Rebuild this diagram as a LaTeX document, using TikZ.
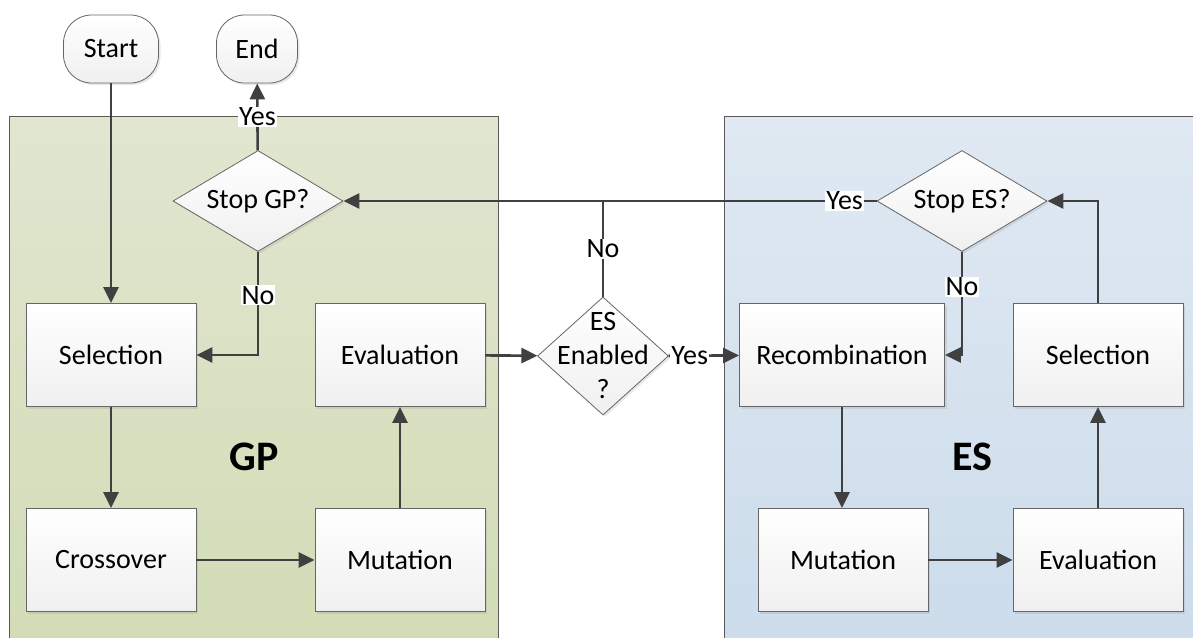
\documentclass[tikz,border=0pt]{standalone}
\usepackage{fontspec}
\setmainfont{Carlito}
\usetikzlibrary{arrows.meta,shapes.geometric,shadows,calc}

\definecolor{lineclr}{HTML}{404040}
\definecolor{gptop}{HTML}{E1E6D0}
\definecolor{gpbot}{HTML}{D2DCB6}
\definecolor{estop}{HTML}{E0E9F2}
\definecolor{esbot}{HTML}{CCDCEB}

\tikzset{
  boxshade/.style={draw=gray!80!black,line width=0.8pt,top color=white,bottom color=gray!12,
    drop shadow={opacity=0.18,shadow xshift=2pt,shadow yshift=-2pt}},
  stepbox/.style={boxshade,rectangle,minimum width=170pt,minimum height=103pt},
  termbox/.style={boxshade,rectangle,rounded corners=28pt,minimum height=68pt},
  decision/.style={boxshade,diamond,aspect=1.68,inner sep=1pt},
  flow/.style={line width=2.6pt,color=lineclr},
  answer/.style={fill=white,inner sep=1pt,text=black},
}

\begin{document}
\begin{tikzpicture}[x=1pt,y=-1pt,>={Triangle[length=16pt,width=15pt]},
  every node/.style={font=\fontsize{28}{32}\selectfont}]
\useasboundingbox (0,0) rectangle (1193,637);
% panels
\fill[top color=gptop,bottom color=gpbot] (9,116) rectangle (498,640);
\draw[gray!70!black,line width=1pt] (9,640) -- (9,116) -- (498,116) -- (498,640);
\fill[top color=estop,bottom color=esbot] (724,116) rectangle (1196,640);
\draw[gray!70!black,line width=1pt] (724,640) -- (724,116) -- (1196,116);
\node[font=\fontsize{42}{46}\selectfont\bfseries] (gp) at (254,457) {GP};
\node[font=\fontsize{42}{46}\selectfont\bfseries] (es) at (972,457) {ES};

% GP side
\node[termbox,minimum width=95pt] (start) at (111,49) {Start};
\node[termbox,minimum width=81pt] (end) at (257,49) {End};
\node[decision,minimum width=170pt,minimum height=101pt] (stopgp) at (258,201) {Stop GP?};
\node[stepbox] (selgp) at (111,355) {Selection};
\node[stepbox] (evalgp) at (400,355) {Evaluation};
\node[stepbox] (cross) at (111,560) {Crossover};
\node[stepbox] (mutgp) at (400,560) {Mutation};

% middle
\node[decision,minimum width=131pt,minimum height=118pt] (esen) at (603,356) {};
\node[align=center,font=\fontsize{28}{34}\selectfont] (esentext) at (esen) {ES\\Enabled\\?};

% ES side
\node[decision,minimum width=170pt,minimum height=101pt] (stopes) at (962,201) {Stop ES?};
\node[stepbox,minimum width=205pt] (recomb) at (842,355) {Recombination};
\node[stepbox] (seles) at (1098,355) {Selection};
\node[stepbox] (mutes) at (843,560) {Mutation};
\node[stepbox] (evales) at (1098,560) {Evaluation};

% connectors
\draw[flow,->] (start) -- (selgp);
\draw[flow,->] (stopgp) -- node[answer,pos=0.5] {Yes} (end);
\draw[flow,->] (stopgp.south) -- node[answer,pos=0.42] {No} (stopgp.south |- selgp) -- (selgp);
\draw[flow,->] (selgp) -- (cross);
\draw[flow,->] (cross) -- (mutgp);
\draw[flow,->] (mutgp) -- (evalgp);
\draw[flow,->] (evalgp) -- (esen);
\draw[flow,->] (esen) -- node[answer,pos=0.3] {Yes} (recomb);
\draw[flow] (esen.north) -- node[answer] {No} (esen.north |- stopgp);
\draw[flow,->] (stopes) -- node[answer,pos=0.06] {Yes} (stopgp);
\draw[flow,->] (stopes.south) -- node[answer,pos=0.34] {No} (stopes.south |- recomb) -- (recomb);
\draw[flow,->] (recomb) -- (recomb |- mutes.north);
\draw[flow,->] (mutes) -- (evales);
\draw[flow,->] (evales) -- (seles);
\draw[flow,->] (seles) |- (stopes);
\end{tikzpicture}
\end{document}
